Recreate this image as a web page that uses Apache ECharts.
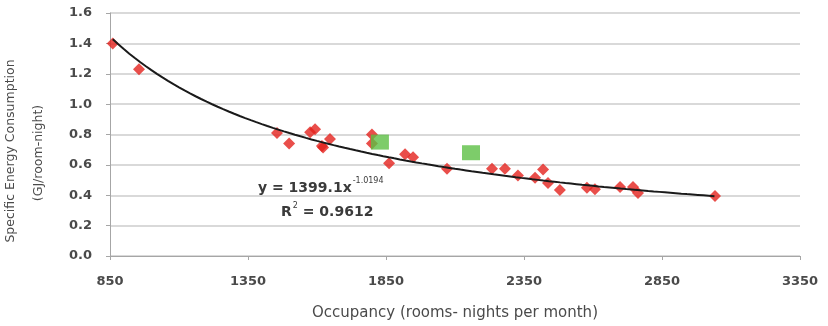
<!DOCTYPE html>
<html>
<head>
<meta charset="utf-8">
<script src="https://cdn.jsdelivr.net/npm/echarts@6/dist/echarts.min.js"></script>
<style>html,body{margin:0;padding:0;background:#fff}#c{width:828px;height:326px}</style>
</head>
<body>
<div id="c"></div>
<script>
// Red points: [occupancy, specific energy consumption]
const redOccupancy = [860, 955, 1455, 1499, 1575, 1593, 1618, 1622, 1647, 1799, 1799, 1861, 1919, 1948, 2071, 2234, 2281, 2328, 2390, 2419, 2437, 2480, 2578, 2607, 2698, 2745, 2763, 3042];
const redSEC       = [1.40, 1.23, 0.81, 0.74, 0.815, 0.835, 0.725, 0.715, 0.77, 0.80, 0.74, 0.61, 0.67, 0.65, 0.575, 0.575, 0.575, 0.53, 0.515, 0.57, 0.48, 0.435, 0.45, 0.44, 0.455, 0.455, 0.415, 0.395];
// Green points
const greenOccupancy = [1828, 2158];
const greenSEC       = [0.75, 0.68];
// Trendline as printed: y = 1399.1 x^-1.0194
const trendA = 1399.1, trendB = -1.0194;
const trendStart = 860, trendEnd = 3042;
const xTicks = [850, 1350, 1850, 2350, 2850, 3350];
const yTicks = [0.0, 0.2, 0.4, 0.6, 0.8, 1.0, 1.2, 1.4, 1.6];
const yTitle1 = 'Specific Energy Consumption';
const yTitle2 = '(GJ/room-night)';
const xTitle = 'Occupancy (rooms- nights per month)';
const eqMain = 'y = 1399.1x', eqSup = '-1.0194';
const r2Main = 'R', r2Sup = '2', r2Rest = ' = 0.9612';

const red = redOccupancy.map((x, i) => [x, redSEC[i]]);
const green = greenOccupancy.map((x, i) => [x, greenSEC[i]]);
const trend = [];
for (let x = trendStart; x <= trendEnd; x += 20) trend.push([x, trendA * Math.pow(x, trendB)]);
trend.push([trendEnd, trendA * Math.pow(trendEnd, trendB)]);

const font = 'DejaVu Sans, sans-serif';
const ctx = document.createElement('canvas').getContext('2d');
function tw(t, size, bold) { ctx.font = (bold ? 'bold ' : '') + size + 'px ' + font; return ctx.measureText(t).width; }
const eqX = 258, eqSize = 14, supSize = 8;
const eqSupX = eqX + tw(eqMain, eqSize, true) + 1;
const rX = 281;
const r2SupX = rX + tw(r2Main, eqSize, true) + 1;
const r2RestX = r2SupX + tw(r2Sup, supSize, false);

const chart = echarts.init(document.getElementById('c'), null, {renderer: 'canvas'});
const txt = '#4a4a4a';
const eqc = '#3a3a3a';
chart.setOption({
  animation: false,
  grid: {left: 110, right: 28, top: 13, bottom: 70, containLabel: false, outerBoundsMode: 'none'},
  xAxis: {
    type: 'value', min: xTicks[0], max: xTicks[xTicks.length - 1], interval: 500,
    axisLine: {show: true, lineStyle: {color: '#a6a6a6', width: 1}},
    axisTick: {show: true, length: 4, lineStyle: {color: '#a6a6a6'}},
    splitLine: {show: false},
    axisLabel: {color: txt, fontSize: 13, fontFamily: font, fontWeight: 'bold', margin: 19,
      formatter: v => String(v)},
    name: xTitle, nameLocation: 'middle', nameGap: 50,
    nameTextStyle: {color: txt, fontSize: 15, fontFamily: font}
  },
  yAxis: {
    type: 'value', min: 0, max: 1.6, interval: 0.2,
    axisLine: {show: true, lineStyle: {color: '#a6a6a6', width: 1}},
    axisTick: {show: true, length: 4, lineStyle: {color: '#a6a6a6'}},
    splitLine: {show: true, lineStyle: {color: '#d9d9d9', width: 2}},
    axisLabel: {color: txt, fontSize: 13, fontFamily: font, fontWeight: 'bold', margin: 18,
      formatter: v => v.toFixed(1)}
  },
  series: [
    {type: 'line', data: trend, showSymbol: false, symbol: 'none', smooth: false,
     lineStyle: {color: '#1a1a1a', width: 2}, z: 3, silent: true},
    {type: 'scatter', data: red, symbol: 'diamond', symbolSize: 12,
     itemStyle: {color: '#e3221d'}, z: 2},
    {type: 'scatter', data: green, symbol: 'rect', symbolSize: [18, 15],
     itemStyle: {color: '#5cbf45'}, z: 4}
  ],
  graphic: [
    {type: 'text', x: 11, y: 151, rotation: Math.PI / 2, z: 10, style: {
      text: yTitle1, fill: txt, fontSize: 12.5, fontFamily: font, align: 'center', verticalAlign: 'middle'}},
    {type: 'text', x: 39, y: 153, rotation: Math.PI / 2, z: 10, style: {
      text: yTitle2, fill: txt, fontSize: 12.5, fontFamily: font, align: 'center', verticalAlign: 'middle'}},
    {type: 'text', x: eqX, y: 188, z: 10, style: {
      text: eqMain, fill: eqc, fontSize: eqSize, fontWeight: 'bold', fontFamily: font, align: 'left', verticalAlign: 'middle'}},
    {type: 'text', x: eqSupX, y: 181, z: 10, style: {
      text: eqSup, fill: eqc, fontSize: supSize, fontFamily: font, align: 'left', verticalAlign: 'middle'}},
    {type: 'text', x: rX, y: 212, z: 10, style: {
      text: r2Main, fill: eqc, fontSize: eqSize, fontWeight: 'bold', fontFamily: font, align: 'left', verticalAlign: 'middle'}},
    {type: 'text', x: r2SupX, y: 206, z: 10, style: {
      text: r2Sup, fill: eqc, fontSize: supSize, fontFamily: font, align: 'left', verticalAlign: 'middle'}},
    {type: 'text', x: r2RestX, y: 212, z: 10, style: {
      text: r2Rest, fill: eqc, fontSize: eqSize, fontWeight: 'bold', fontFamily: font, align: 'left', verticalAlign: 'middle'}}
  ]
});
</script>
</body>
</html>
